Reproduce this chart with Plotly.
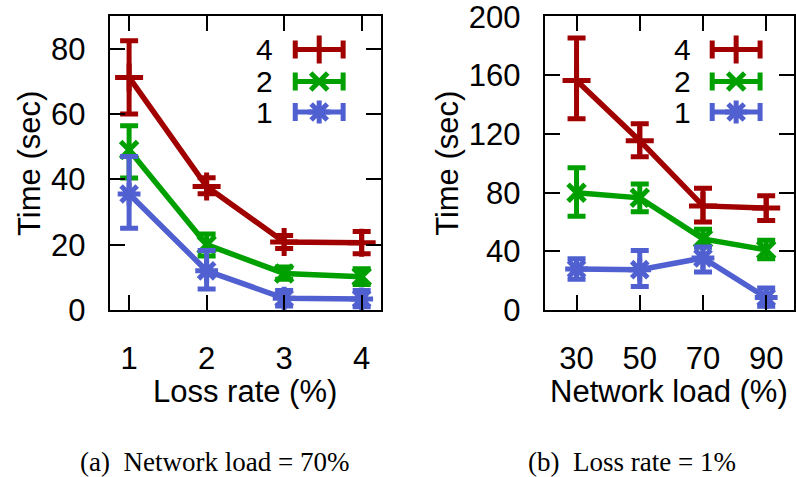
import plotly.graph_objects as go

W, H = 796, 477
# ---------------- data ----------------
loss_rate = [1, 2, 3, 4]
net_load = [30, 50, 70, 90]
series_names = ["4", "2", "1"]

# (a) Network load = 70%
a4 = [71.2, 37.8, 20.8, 20.6]
a4_hi = [82.4, 40.5, 22.8, 24.0]
a4_lo = [60.0, 35.6, 18.8, 17.2]
a2 = [49.0, 20.0, 11.2, 10.2]
a2_hi = [56.4, 23.3, 13.2, 12.6]
a2_lo = [40.4, 16.5, 9.4, 7.8]
a1 = [35.5, 12.0, 3.6, 3.4]
a1_hi = [47.0, 18.2, 6.0, 6.0]
a1_lo = [25.0, 6.4, 1.2, 1.0]

# (b) Loss rate = 1%
b4 = [156.5, 115.5, 71.0, 69.5]
b4_hi = [185.5, 127.0, 83.0, 78.0]
b4_lo = [130.5, 104.5, 60.0, 61.0]
b2 = [80.0, 76.5, 48.5, 41.0]
b2_hi = [97.0, 86.0, 55.0, 47.5]
b2_lo = [64.0, 67.0, 43.0, 35.0]
b1 = [28.0, 27.5, 35.5, 8.5]
b1_hi = [35.0, 40.5, 43.0, 15.0]
b1_lo = [21.0, 16.0, 26.0, 2.5]

colors = ["#a00000", "#00a000", "#5060d0"]
symbols = ["cross-thin", "x-thin", "asterisk"]
msizes = [20, 17, 19]

FONT = "Liberation Sans"
FS = 31
LEG_FS = 30

fig = go.Figure()

def add_series(x, y, hi, lo, color, sym, ms, xa, ya):
    fig.add_trace(go.Scatter(
        x=x, y=y, mode="lines+markers", xaxis=xa, yaxis=ya,
        line=dict(color=color, width=5.5),
        marker=dict(symbol=sym, size=ms, color=color, line=dict(color=color, width=5)),
        error_y=dict(type="data", symmetric=False,
                     array=[h - v for h, v in zip(hi, y)],
                     arrayminus=[v - l for v, l in zip(y, lo)],
                     color=color, thickness=5, width=9),
        showlegend=False, hoverinfo="skip", cliponaxis=False))

a_sets = [(a4, a4_hi, a4_lo), (a2, a2_hi, a2_lo), (a1, a1_hi, a1_lo)]
b_sets = [(b4, b4_hi, b4_lo), (b2, b2_hi, b2_lo), (b1, b1_hi, b1_lo)]
for i in range(3):
    add_series(loss_rate, *a_sets[i], colors[i], symbols[i], msizes[i], "x", "y")
for i in range(3):
    add_series(net_load, *b_sets[i], colors[i], symbols[i], msizes[i], "x2", "y2")

# ---------- manual gnuplot-style legends (pixel coords in overlay axes) ----------
leg_rows = [49.5, 81.5, 112]
leg_sets = [dict(text_x=276, mid=320, half=24), dict(text_x=695, mid=738, half=24)]
for L in leg_sets:
    for i, name in enumerate(series_names):
        fig.add_trace(go.Scatter(
            x=[L["mid"]], y=[leg_rows[i]], mode="markers", xaxis="x3", yaxis="y3",
            marker=dict(symbol=symbols[i], size=msizes[i], color=colors[i],
                        line=dict(color=colors[i], width=5)),
            error_x=dict(type="constant", value=L["half"], color=colors[i], thickness=5, width=9),
            showlegend=False, hoverinfo="skip", cliponaxis=False))
        fig.add_annotation(x=L["text_x"], y=leg_rows[i], xref="x3", yref="y3",
                           text=name, showarrow=False, xanchor="right", yanchor="middle",
                           font=dict(family=FONT, size=LEG_FS, color="black"))

L0, R0 = 110, 382
L1, R1 = 546, 796
T, B = 16, 310

def ax_common():
    return dict(showline=True, linewidth=2, linecolor="black", mirror="ticks",
                ticks="inside", ticklen=15, tickwidth=1.5, tickcolor="black",
                showgrid=False, zeroline=False, ticklabeloverflow="allow",
                tickfont=dict(family=FONT, size=FS, color="black"))

fig.update_layout(
    width=W, height=H,
    margin=dict(l=0, r=0, t=T, b=H - B, pad=0),
    paper_bgcolor="white", plot_bgcolor="rgba(0,0,0,0)",
    xaxis=dict(domain=[L0 / W, R0 / W], range=[0.75, 4.25], anchor="y",
               tickvals=loss_rate, ticklabelstandoff=20, **ax_common()),
    yaxis=dict(domain=[0, 1], range=[0, 90], anchor="x",
               tickvals=[0, 20, 40, 60, 80], ticklabelstandoff=16, **ax_common()),
    xaxis2=dict(domain=[L1 / W, R1 / W], range=[19.9, 98.8], anchor="y2",
                tickvals=net_load, ticklabelstandoff=20, **ax_common()),
    yaxis2=dict(domain=[0, 1], range=[0, 200.5], anchor="x2",
                tickvals=[0, 40, 80, 120, 160, 200], ticklabelstandoff=16, **ax_common()),
    xaxis3=dict(domain=[0, 1], range=[0, W], anchor="y3", visible=False, fixedrange=True),
    yaxis3=dict(domain=[0, 1], range=[B, T], anchor="x3", visible=False, fixedrange=True),
)

def py(pix):
    return (B - pix) / (B - T)

anns = [
    dict(text="Loss rate (%)", x=(L0 + R0) / 2 / W, y=py(391), size=FS, fam=FONT, ang=0),
    dict(text="Network load (%)", x=671 / W, y=py(391), size=FS, fam=FONT, ang=0),
    dict(text="Time (sec)", x=29 / W, y=py(163), size=FS, fam=FONT, ang=-90),
    dict(text="Time (sec)", x=448 / W, y=py(163), size=FS, fam=FONT, ang=-90),
    dict(text="(a)  Network load = 70%", x=215 / W, y=py(462), size=27, fam="Liberation Serif", ang=0),
    dict(text="(b)  Loss rate = 1%", x=634 / W, y=py(462), size=27, fam="Liberation Serif", ang=0),
]
for a in anns:
    fig.add_annotation(text=a["text"], x=a["x"], y=a["y"], xref="paper", yref="paper",
                       showarrow=False, xanchor="center", yanchor="middle", textangle=a["ang"],
                       font=dict(family=a["fam"], size=a["size"], color="black"))

fig.write_html("out.html", config={"displayModeBar": False},
               post_script="document.body.style.margin='0';document.body.style.overflow='hidden';")
